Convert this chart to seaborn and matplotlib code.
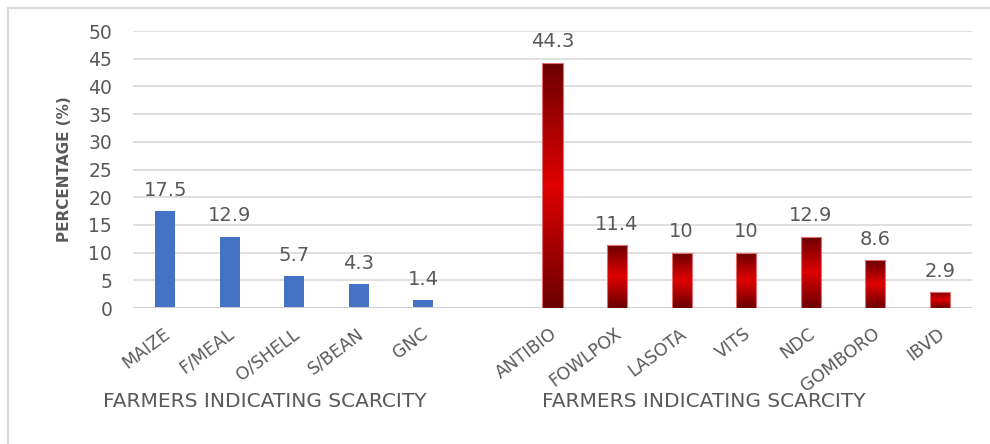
import numpy as np
import pandas as pd
import matplotlib
matplotlib.use("Agg")
import matplotlib.pyplot as plt
from matplotlib.colors import LinearSegmentedColormap
from matplotlib.patches import Rectangle
from matplotlib.transforms import ScaledTranslation
import seaborn as sns

# Feed ingredients and veterinary products reported as scarce
feed_items = ["MAIZE", "F/MEAL", "O/SHELL", "S/BEAN", "GNC"]
feed_pct = [17.5, 12.9, 5.7, 4.3, 1.4]
vet_items = ["ANTIBIO", "FOWLPOX", "LASOTA", "VITS", "NDC", "GOMBORO", "IBVD"]
vet_pct = [44.3, 11.4, 10, 10, 12.9, 8.6, 2.9]
y_ticks = [0, 5, 10, 15, 20, 25, 30, 35, 40, 45, 50]
group_title = "FARMERS INDICATING SCARCITY"
y_title = "PERCENTAGE (%)"

sns.set_theme(style="white")
plt.rcParams["font.family"] = ["DejaVu Sans"]

text_grey = "#595959"
blue = "#4472C4"

df = pd.DataFrame({
    "item": feed_items + vet_items,
    "pct": feed_pct + vet_pct,
    "group": ["feed"] * len(feed_items) + ["vet"] * len(vet_items),
})
# one empty slot separates the two groups
order = feed_items + [" "] + vet_items

fig = plt.figure(figsize=(9.9, 4.44), dpi=100)
ax = fig.add_axes([133 / 990, 1 - 308 / 444, (972 - 133) / 990, (308 - 31) / 444])

sns.barplot(data=df, x="item", y="pct", hue="group", order=order,
            palette={"feed": blue, "vet": "#c00000"}, dodge=False,
            width=0.31, legend=False, ax=ax, saturation=1, linewidth=0)

ax.set_ylim(0, 50)
ax.set_xlim(-0.5, len(order) - 0.5)
ax.set_yticks(y_ticks)
ax.yaxis.grid(True, color="#d9d9d9", linewidth=1.2)
ax.set_axisbelow(True)
for s in ax.spines.values():
    s.set_visible(False)
ax.axhline(0, color="#d0d0d0", linewidth=1.4, zorder=1)

ax.tick_params(axis="y", length=0, pad=15, labelsize=13.5, labelcolor=text_grey)
ax.tick_params(axis="x", length=0, pad=2, labelsize=12.5, labelcolor=text_grey)
ax.set_xlabel("")
ax.set_ylabel(y_title, fontsize=11, fontweight="bold", color=text_grey,
              labelpad=12)

shift = ScaledTranslation(-2 / 72, -10 / 72, fig.dpi_scale_trans)
for lab in ax.get_xticklabels():
    lab.set_rotation(37)
    lab.set_ha("right")
    lab.set_va("top")
    lab.set_rotation_mode("anchor")
    lab.set_transform(lab.get_transform() + shift)

# dark-bright-dark vertical shading for the veterinary bars
red_cmap = LinearSegmentedColormap.from_list(
    "redshade", [(0.0, "#6b0000"), (0.3, "#b00000"), (0.5, "#e00000"),
                 (0.7, "#b00000"), (1.0, "#6b0000")])
grad = np.linspace(0, 1, 256).reshape(-1, 1)

vals = dict(zip(df["item"], df["pct"]))
for bar in ax.patches:
    h = bar.get_height()
    if not np.isfinite(h) or h <= 0:
        continue
    x0 = bar.get_x()
    w = bar.get_width()
    xc = x0 + w / 2
    name = order[int(round(xc))]
    if name in vet_items:
        bar.set_facecolor("none")
        bar.set_edgecolor("#e07070")
        bar.set_linewidth(0.8)
        bar.set_zorder(3)
        im = ax.imshow(grad, cmap=red_cmap, aspect="auto", origin="lower",
                       extent=(x0, x0 + w, 0, h), zorder=2)
        im.set_clip_path(bar)
    ax.annotate(f"{vals[name]:g}", (xc, h), xytext=(0, 8),
                textcoords="offset points", ha="center", va="bottom",
                fontsize=14, color=text_grey)

ax.set_xlim(-0.5, len(order) - 0.5)
ax.set_ylim(0, 50)

fig.text(265 / 990, 1 - 401 / 444, group_title, ha="center", va="center",
         fontsize=14.5, color=text_grey)
fig.text(704 / 990, 1 - 401 / 444, group_title, ha="center", va="center",
         fontsize=14.5, color=text_grey)

# chart frame
fig.patches.append(Rectangle((8 / 990, -0.2), 1.2, 1 - 8 / 444 + 0.2,
                             transform=fig.transFigure, fill=False,
                             edgecolor="#d9d9d9", linewidth=1.5))

fig.savefig("out.png", dpi=100)
